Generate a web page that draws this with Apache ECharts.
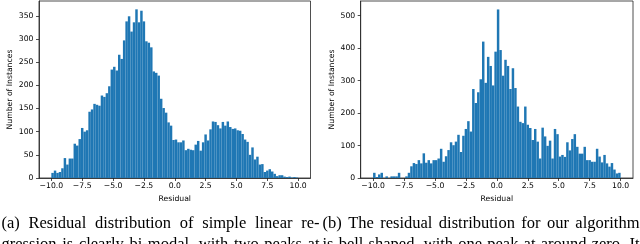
<!DOCTYPE html>
<html>
<head>
<meta charset="utf-8">
<script src="https://cdn.jsdelivr.net/npm/echarts@6/dist/echarts.min.js"></script>
<style>
html,body{margin:0;padding:0;background:#fff;}
#chart{width:640px;height:244px;}
</style>
</head>
<body>
<div id="chart"></div>
<script>
// ---- data ----
const binStart = -10;      // first bin edge
const binWidth = 0.2;      // histogram bin width
const countsLinear = [
  11, 16, 11, 13, 21, 43, 29, 42, 42, 74,
  70, 84, 108, 100, 103, 143, 148, 160, 158, 156,
  178, 175, 183, 198, 234, 240, 232, 266, 257, 297,
  338, 349, 316, 336, 364, 336, 361, 338, 295, 292,
  282, 230, 227, 221, 171, 151, 141, 120, 113, 82,
  83, 77, 77, 81, 60, 63, 61, 60, 72, 80,
  59, 77, 94, 81, 105, 122, 121, 114, 107, 121,
  113, 122, 110, 106, 107, 103, 102, 95, 83, 78,
  50, 66, 40, 46, 29, 30, 13, 16, 19, 14,
  9, 4, 6, 6, 3, 2, 3, 1, 2, 1
];
const countsOurs = [
  16, 3, 11, 16, 0, 5, 0, 5, 5, 5,
  16, 0, 0, 5, 16, 36, 46, 43, 55, 45,
  76, 47, 55, 45, 55, 55, 60, 90, 50, 67,
  86, 110, 101, 112, 133, 80, 130, 151, 175, 143,
  274, 231, 264, 304, 420, 293, 373, 345, 285, 389,
  519, 394, 315, 364, 345, 274, 338, 277, 220, 173,
  169, 220, 164, 154, 117, 151, 112, 60, 155, 128,
  99, 115, 60, 151, 135, 66, 71, 65, 110, 85,
  120, 135, 96, 75, 75, 96, 55, 55, 50, 50,
  90, 66, 48, 71, 45, 35, 46, 26, 14, 16
];
const xTicks = [-10, -7.5, -5, -2.5, 0, 2.5, 5, 7.5, 10];
const yTicksLinear = [0, 50, 100, 150, 200, 250, 300, 350];
const yTicksOurs = [0, 100, 200, 300, 400, 500];
const xAxisName = 'Residual';
const yAxisName = 'Number of Instances';
const captionA = ['(a) Residual distribution of simple linear re-', 'gression is clearly bi-modal, with two peaks at'];
const captionB = ['(b) The residual distribution for our algorithm', 'is bell shaped, with one peak at around zero. It'];

// ---- build ----
function toBins(counts) {
  return counts.map((c, i) => {
    const x0 = +(binStart + i * binWidth).toFixed(4);
    return [x0, +(x0 + binWidth).toFixed(4), c];
  });
}
const MINUS = '\u2212';
const fmtX = v => (v < 0 ? MINUS : '') + Math.abs(v).toFixed(1);
const tickFont = 'DejaVu Sans';
const axisColor = '#222';

function xAxisCfg(gi) {
  return {
    gridIndex: gi, type: 'value', min: -11, max: 11,
    name: xAxisName, nameLocation: 'middle', nameGap: 15,
    nameTextStyle: {fontFamily: tickFont, fontSize: 7.7, color: '#000'},
    axisLine: {show: true, onZero: false, lineStyle: {color: axisColor, width: 0.8}},
    axisTick: {show: true, length: 3, customValues: xTicks, lineStyle: {color: axisColor, width: 0.8}},
    axisLabel: {customValues: xTicks, formatter: fmtX, fontFamily: tickFont, fontSize: 7.7, color: '#000', margin: 4.5},
    splitLine: {show: false}
  };
}
function yAxisCfg(gi, max, ticks) {
  return {
    gridIndex: gi, type: 'value', min: 0, max: max,
    name: yAxisName, nameLocation: 'middle', nameGap: 25, nameRotate: 90,
    nameTextStyle: {fontFamily: tickFont, fontSize: 7.7, color: '#000'},
    axisLine: {show: true, onZero: false, lineStyle: {color: axisColor, width: 0.8}},
    axisTick: {show: true, length: 3, customValues: ticks, lineStyle: {color: axisColor, width: 0.8}},
    axisLabel: {customValues: ticks, fontFamily: tickFont, fontSize: 7.7, color: '#000', margin: 5.5},
    splitLine: {show: false}
  };
}
function renderBar(params, api) {
  const p0 = api.coord([api.value(0), 0]);
  const p1 = api.coord([api.value(1), api.value(2)]);
  return {
    type: 'rect',
    shape: {x: p0[0], y: p1[1], width: p1[0] - p0[0], height: p0[1] - p1[1]},
    style: {fill: '#1f77b4'}
  };
}

// caption, justified word by word
const capFont = '16.5px "Liberation Serif"';
const mctx = document.createElement('canvas').getContext('2d');
mctx.font = capFont;
function justify(line, x0, x1, yMid) {
  const words = line.split(' ');
  const widths = words.map(w => mctx.measureText(w).width);
  const total = widths.reduce((a, b) => a + b, 0);
  const gap = words.length > 1 ? (x1 - x0 - total) / (words.length - 1) : 0;
  let x = x0;
  return words.map((w, i) => {
    const el = {
      type: 'text', x: x, y: yMid, silent: true,
      style: {text: w, font: capFont, fill: '#000', textAlign: 'left', textVerticalAlign: 'middle', align: 'left', verticalAlign: 'middle'}
    };
    x += widths[i] + gap;
    return el;
  });
}
const graphics = [].concat(
  justify(captionA[0], 1.5, 319.5, 223.7),
  justify(captionA[1], 1.5, 319.5, 245),
  justify(captionB[0], 322.5, 639.5, 223.7),
  justify(captionB[1], 322.5, 639.5, 245)
);

const chart = echarts.init(document.getElementById('chart'), null, {renderer: 'canvas'});
chart.setOption({
  animation: false,
  backgroundColor: '#fff',
  grid: [
    {left: 39, top: 1, width: 271.5, height: 177, show: true, borderColor: axisColor, borderWidth: 0.8, backgroundColor: 'transparent'},
    {left: 360.7, top: 1, width: 272.3, height: 177, show: true, borderColor: axisColor, borderWidth: 0.8, backgroundColor: 'transparent'}
  ],
  xAxis: [xAxisCfg(0), xAxisCfg(1)],
  yAxis: [yAxisCfg(0, 382, yTicksLinear), yAxisCfg(1, 545, yTicksOurs)],
  series: [
    {type: 'custom', xAxisIndex: 0, yAxisIndex: 0, renderItem: renderBar, encode: {x: [0, 1], y: 2}, data: toBins(countsLinear), clip: true},
    {type: 'custom', xAxisIndex: 1, yAxisIndex: 1, renderItem: renderBar, encode: {x: [0, 1], y: 2}, data: toBins(countsOurs), clip: true}
  ],
  graphic: graphics
});
</script>
</body>
</html>
